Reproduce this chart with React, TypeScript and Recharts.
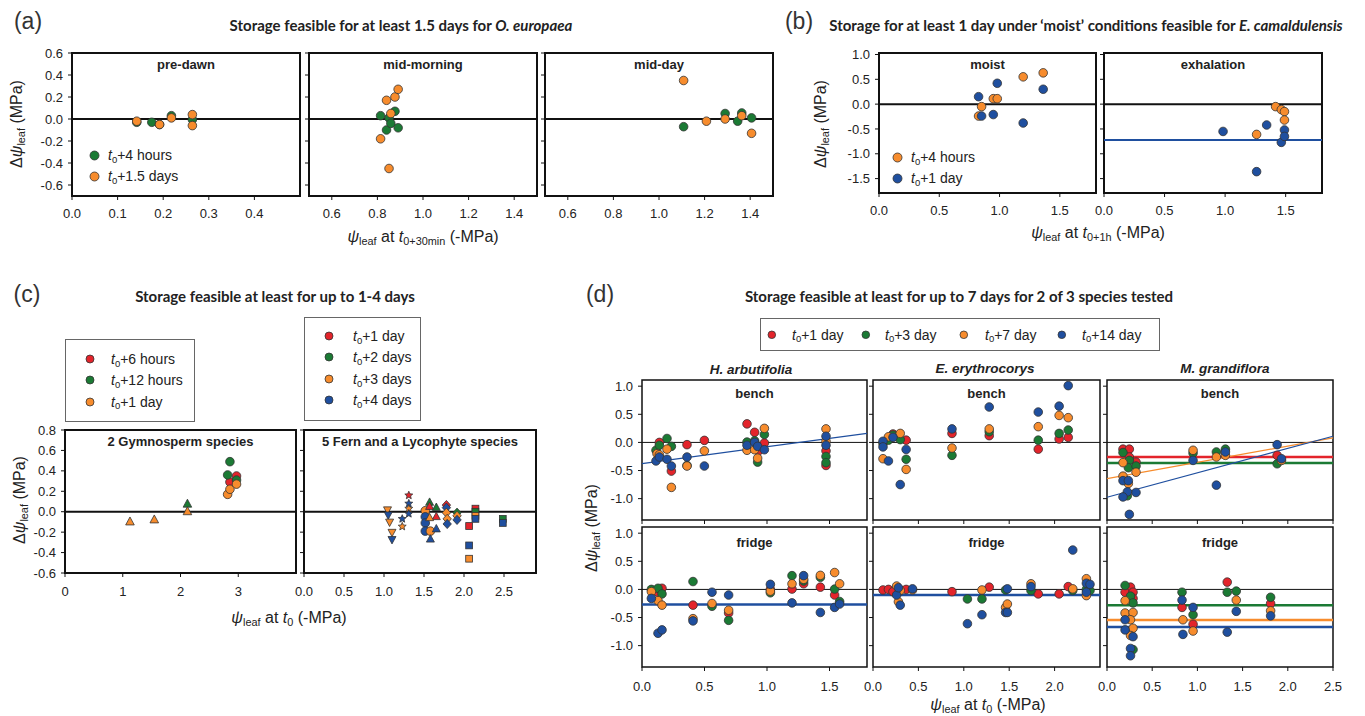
import React from "react";
import {
  ScatterChart,
  Scatter,
  XAxis,
  YAxis,
  ReferenceLine,
  ReferenceArea,
} from "recharts";

const RED = "#e3242b";
const GREEN = "#1b7a34";
const ORANGE = "#f78c2d";
const BLUE = "#1f4f9f";
const STEP_COLORS = [RED, GREEN, ORANGE, BLUE];
const FONT = "'Liberation Sans', Arial, sans-serif";
const TITLE_FONT = "Lato, 'Open Sans', sans-serif";

// (a) O. europaea, x = psi at t0+30min, y = delta psi
const preDawn4h = [[0.142, -0.03], [0.175, -0.03], [0.192, -0.05], [0.218, 0.03], [0.264, -0.005]];
const preDawn36h = [[0.142, -0.02], [0.192, -0.05], [0.218, 0.01], [0.264, 0.04], [0.264, -0.06]];
const midMorning4h = [[0.814, 0.03], [0.851, 0.01], [0.877, 0.07], [0.84, -0.1], [0.859, -0.04], [0.891, -0.08]];
const midMorning36h = [[0.814, -0.18], [0.84, 0.17], [0.859, 0.05], [0.877, 0.2], [0.891, 0.27], [0.851, -0.45]];
const midDay4h = [[1.108, -0.07], [1.29, 0.05], [1.345, -0.02], [1.363, 0.055], [1.406, 0.01]];
const midDay36h = [[1.108, 0.35], [1.208, -0.02], [1.29, 0], [1.363, 0.03], [1.406, -0.13]];

// (b) E. camaldulensis
const moist4h = [[0.826, -0.24], [0.851, -0.05], [0.948, 0.11], [0.981, 0.11], [1.196, 0.55], [1.362, 0.63]];
const moist1d = [[0.826, 0.15], [0.851, -0.24], [0.948, -0.21], [0.981, 0.42], [1.196, -0.38], [1.362, 0.3]];
const exhal4h = [[1.26, -0.61], [1.417, -0.05], [1.464, -0.11], [1.49, -0.15], [1.49, -0.32]];
const exhal1d = [[0.983, -0.55], [1.26, -1.36], [1.343, -0.42], [1.464, -0.77], [1.49, -0.52], [1.49, -0.65]];
const exhalLine = -0.72;

// (c) x, y, time step (0: first, 1: second, 2: third, 3: fourth)
const gymnoTriangles = [[1.125, -0.1, 2], [1.546, -0.08, 2], [2.12, 0.074, 1], [2.12, 0.0, 2]];
const gymnoCircles = [
  [2.856, 0.29, 0], [2.97, 0.35, 0], [2.816, 0.36, 1], [2.856, 0.49, 1], [2.97, 0.31, 1],
  [2.816, 0.17, 2], [2.856, 0.22, 2], [2.97, 0.27, 2],
];
const fernTriDown = [[1.044, 0.02, 2], [1.053, -0.03, 3], [1.07, -0.1, 2], [1.1, -0.2, 2], [1.1, -0.27, 3]];
const fernStar = [[1.31, 0.16, 0], [1.31, 0.08, 3], [1.31, 0.03, 2], [1.31, -0.02, 3], [1.228, -0.07, 3], [1.228, -0.145, 2]];
const fernCircle = [[1.516, 0.01, 2], [1.516, -0.05, 3], [1.516, -0.11, 3], [1.516, -0.19, 3], [1.58, -0.19, 2]];
const fernTriUp = [[1.57, 0.09, 1], [1.57, 0.05, 0], [1.654, 0.04, 1], [1.654, -0.05, 0], [1.57, -0.06, 2], [1.654, -0.17, 3], [1.58, -0.27, 3]];
const fernDiamond = [[1.78, 0.065, 0], [1.78, 0.04, 3], [1.78, -0.01, 2], [1.79, -0.07, 2], [1.79, -0.12, 3], [1.913, -0.01, 1], [1.913, -0.04, 2], [1.913, -0.08, 3]];
const fernSquare = [[2.143, 0.03, 0], [2.143, 0, 1], [2.143, -0.04, 2], [2.143, -0.07, 3], [2.064, -0.14, 0], [2.064, -0.33, 3], [2.064, -0.46, 2], [2.485, -0.07, 1], [2.485, -0.11, 3]];

// (d) H. arbutifolia
const harbBench1d = [[0.139, 0], [0.235, -0.51], [0.36, -0.04], [0.499, 0.036], [0.84, 0.33], [0.901, 0.18], [0.933, -0.15], [0.979, -0.01], [1.472, -0.15], [1.472, -0.41]];
const harbBench3d = [[0.112, -0.14], [0.139, -0.05], [0.2, 0.07], [0.235, -0.07], [0.36, -0.41], [0.84, 0.006], [0.901, 0.03], [0.925, -0.35], [0.979, 0.14], [1.472, -0.25], [1.472, -0.36]];
const harbBench7d = [[0.12, -0.2], [0.139, -0.22], [0.2, -0.12], [0.235, -0.8], [0.36, -0.42], [0.499, -0.15], [0.84, -0.14], [0.901, -0.13], [0.925, -0.28], [0.979, 0.25], [1.472, 0.24], [1.472, 0.02]];
const harbBench14d = [[0.112, -0.33], [0.139, -0.26], [0.2, -0.3], [0.235, -0.42], [0.36, -0.26], [0.499, -0.42], [0.84, -0.05], [0.901, 0], [0.925, -0.07], [0.979, -0.13], [1.472, 0.11], [1.472, -0.05]];
const harbBenchFit = [[0, -0.376], [1.8, 0.16]];
const harbFridge1d = [[0.128, -0.05], [0.16, 0.02], [0.408, -0.28], [0.693, -0.42], [1.027, 0], [1.2, 0.006], [1.293, 0.1], [1.427, 0.04], [1.541, -0.1]];
const harbFridge3d = [[0.075, 0], [0.128, 0.02], [0.16, -0.08], [0.408, 0.14], [0.56, -0.3], [0.693, -0.55], [1.027, -0.06], [1.2, 0.245], [1.293, 0.15], [1.427, 0.215], [1.541, 0.006], [1.581, -0.215]];
const harbFridge7d = [[0.075, -0.04], [0.128, -0.2], [0.16, -0.28], [0.408, -0.52], [0.56, -0.25], [0.693, -0.37], [1.027, -0.03], [1.2, 0.1], [1.293, 0.18], [1.427, 0.25], [1.541, 0.3], [1.581, 0.1]];
const harbFridge14d = [[0.075, -0.16], [0.128, -0.78], [0.16, -0.72], [0.408, -0.56], [0.56, -0.05], [0.693, -0.1], [1.027, 0.09], [1.2, -0.24], [1.293, 0.245], [1.427, -0.41], [1.541, -0.32], [1.581, -0.26]];
const harbFridgeMean14d = -0.27;

// (d) E. erythrocorys
const eryBench1d = [[0.22, 0.15], [0.365, 0.04], [0.87, 0.16], [1.28, 0.12], [1.82, -0.12], [2.05, 0.06], [2.15, 0.09]];
const eryBench3d = [[0.11, -0.02], [0.17, 0.04], [0.22, 0.13], [0.3, 0.05], [0.365, -0.3], [0.87, -0.23], [1.28, 0.19], [1.82, 0.04], [2.05, 0.16], [2.15, 0.22]];
const eryBench7d = [[0.11, -0.29], [0.17, 0.1], [0.3, 0.16], [0.365, -0.48], [0.87, -0.1], [1.28, 0.24], [1.82, 0.28], [2.05, 0.48], [2.15, 0.44]];
const eryBench14d = [[0.11, 0.02], [0.11, -0.08], [0.17, -0.33], [0.22, 0.09], [0.3, -0.75], [0.365, -0.125], [0.87, 0.24], [1.28, 0.63], [1.82, 0.54], [2.05, 0.645], [2.15, 1.01]];
const eryFridge1d = [[0.11, -0.01], [0.17, 0], [0.22, -0.04], [0.365, 0], [0.87, -0.04], [1.28, 0.04], [1.82, -0.08], [2.05, -0.08], [2.15, 0.05]];
const eryFridge3d = [[1.04, -0.17], [1.2, -0.17], [1.46, -0.01], [1.74, -0.02], [2.2, -0.02], [2.35, 0], [2.39, -0.02]];
const eryFridge7d = [[0.26, 0.06], [0.28, -0.22], [0.3, -0.02], [0.435, -0.01], [1.2, -0.01], [1.46, -0.32], [1.48, -0.26], [1.74, 0.1], [2.2, 0.01], [2.35, 0.19], [2.35, -0.11]];
const eryFridge14d = [[0.26, -0.1], [0.28, 0.03], [0.3, -0.28], [0.435, 0.01], [1.04, -0.61], [1.2, -0.45], [1.46, -0.41], [1.48, 0.01], [1.48, -0.41], [1.74, 0.05], [2.2, 0.7], [2.35, 0.11], [2.35, -0.05], [2.39, 0.09]];
const eryFridgeMean14d = -0.1;

// (d) M. grandiflora
const magBench1d = [[0.177, -0.12], [0.247, -0.12], [0.247, -0.26], [0.321, -0.35], [1.882, -0.23]];
const magBench3d = [[0.177, -0.18], [0.247, -0.32], [0.236, -0.45], [0.321, -0.42], [0.225, -0.95], [0.952, -0.19], [1.21, -0.17], [1.31, -0.12], [1.882, -0.38]];
const magBench7d = [[0.177, -0.36], [0.321, -0.53], [0.177, -0.6], [0.236, -0.73], [0.952, -0.14], [1.21, -0.26], [1.31, -0.23], [1.93, -0.32]];
const magBench14d = [[0.177, -0.68], [0.236, -0.68], [0.321, -0.89], [0.225, -0.88], [0.177, -0.97], [0.247, -1.28], [0.952, -0.32], [1.21, -0.76], [1.31, -0.17], [1.882, -0.04], [1.93, -0.29]];
const magBenchMean1d = -0.26;
const magBenchMean3d = -0.365;
const magBenchFit7d = [[0, -0.645], [2.5, 0.08]];
const magBenchFit14d = [[0, -0.975], [2.5, 0.11]];
const magFridge1d = [[0.26, 0.04], [0.2, -0.05], [0.288, -0.05], [0.288, -0.16], [0.83, -0.32], [0.952, -0.62], [1.33, 0.13], [1.81, -0.25]];
const magFridge3d = [[0.2, 0.07], [0.26, -0.12], [0.288, -0.24], [0.288, -1.07], [0.83, -0.05], [0.952, -0.45], [1.33, -0.05], [1.43, -0.03], [1.81, -0.14]];
const magFridge7d = [[0.2, -0.2], [0.2, -0.42], [0.288, -0.41], [0.26, -0.54], [0.288, -0.69], [0.26, -0.82], [0.84, -0.54], [0.952, -0.74], [1.43, -0.19], [1.81, -0.38]];
const magFridge14d = [[0.2, -0.54], [0.2, -0.72], [0.288, -0.84], [0.26, -1.05], [0.26, -1.18], [0.83, -0.19], [0.84, -0.8], [0.952, -0.32], [1.33, -0.76], [1.43, -0.39], [1.81, -0.47]];
const magFridgeMean3d = -0.28;
const magFridgeMean7d = -0.545;
const magFridgeMean14d = -0.67;

const aYTicks = [-0.6, -0.4, -0.2, 0, 0.2, 0.4, 0.6];
const bYTicks = [-1.5, -1, -0.5, 0, 0.5, 1];
const cYTicks = [-0.6, -0.4, -0.2, 0, 0.2, 0.4, 0.6, 0.8];
const dYTicks = [-1, -0.5, 0, 0.5, 1];

type Pt = { x: number; y: number; s: number };
const toPts = (rows: number[][]): Pt[] => rows.map(([x, y, s]) => ({ x, y, s: s ?? 0 }));

function starPath(cx: number, cy: number, r: number) {
  let d = "";
  for (let i = 0; i < 10; i++) {
    const rr = i % 2 === 0 ? r : r * 0.45;
    const a = -Math.PI / 2 + (i * Math.PI) / 5;
    d += `${i === 0 ? "M" : "L"}${cx + rr * Math.cos(a)},${cy + rr * Math.sin(a)}`;
  }
  return d + "Z";
}

function marker(kind: string, color: string | undefined, r: number) {
  return (p: any) => {
    const { cx, cy, payload } = p;
    if (cx == null || cy == null) return <g />;
    const fill = color ?? STEP_COLORS[payload?.s ?? 0];
    const st = { fill, stroke: "#333", strokeWidth: 0.8 };
    switch (kind) {
      case "triUp":
        return <path d={`M${cx},${cy - r * 1.15}L${cx + r},${cy + r * 0.7}L${cx - r},${cy + r * 0.7}Z`} {...st} />;
      case "triDown":
        return <path d={`M${cx},${cy + r * 1.15}L${cx + r},${cy - r * 0.7}L${cx - r},${cy - r * 0.7}Z`} {...st} />;
      case "square":
        return <rect x={cx - r * 0.85} y={cy - r * 0.85} width={r * 1.7} height={r * 1.7} {...st} />;
      case "diamond":
        return <path d={`M${cx},${cy - r * 1.1}L${cx + r},${cy}L${cx},${cy + r * 1.1}L${cx - r},${cy}Z`} {...st} />;
      case "star":
        return <path d={starPath(cx, cy, r * 1.1)} {...st} />;
      default:
        return <circle cx={cx} cy={cy} r={r} {...st} />;
    }
  };
}

type SeriesDef = { rows: number[][]; color?: string; kind?: string; r?: number };
type PanelProps = {
  left: number;
  top: number;
  w: number;
  h: number;
  xDomain: [number, number];
  yDomain: [number, number];
  xTicks: number[];
  yTicks: number[];
  yLabels?: boolean;
  xLabels?: boolean;
  xDigits?: number;
  series: SeriesDef[];
  hLines?: { y: number; color: string; width: number }[];
  segs?: { pts: number[][]; color: string }[];
  frame?: number;
  zero?: number;
  xGap?: number;
  label?: string;
  labelTop?: number;
};

const YW = 50;
const PADT = 10;
const PADR = 14;
const XH = 34;

function Panel(props: PanelProps) {
  const {
    left, top, w, h, xDomain, yDomain, xTicks, yTicks, yLabels, xLabels = true, xDigits = 1,
    series, hLines = [], segs = [], frame = 2, zero = 2, xGap = 9, label, labelTop = 4,
  } = props;
  const tickStyle = { fill: "#222", fontSize: 13, fontFamily: FONT };
  return (
    <div style={{ position: "absolute", left: left - YW, top: top - PADT }}>
      <ScatterChart
        width={YW + w + PADR}
        height={PADT + h + XH}
        margin={{ top: PADT, right: PADR, bottom: 0, left: 0 }}
      >
        <XAxis
          type="number"
          dataKey="x"
          domain={xDomain}
          ticks={xTicks}
          interval={0}
          allowDataOverflow
          height={XH}
          tickSize={4}
          tickMargin={xGap}
          axisLine={false}
          tickLine={{ stroke: "#111" }}
          tick={tickStyle}
          tickFormatter={(v: number) => (xLabels ? v.toFixed(xDigits) : "")}
        />
        <YAxis
          type="number"
          dataKey="y"
          domain={yDomain}
          ticks={yTicks}
          interval={0}
          allowDataOverflow
          width={YW}
          tickSize={4}
          tickMargin={5}
          axisLine={false}
          tickLine={{ stroke: "#111" }}
          tick={tickStyle}
          tickFormatter={(v: number) => (yLabels ? v.toFixed(1) : "")}
        />
        <ReferenceArea
          x1={xDomain[0]}
          x2={xDomain[1]}
          y1={yDomain[0]}
          y2={yDomain[1]}
          fill="none"
          fillOpacity={0}
          stroke="#111"
          strokeWidth={frame}
          ifOverflow="visible"
        />
        <ReferenceLine y={0} stroke="#111" strokeWidth={zero} />
        {hLines.map((l, i) => (
          <ReferenceLine key={`h${i}`} y={l.y} stroke={l.color} strokeWidth={l.width} />
        ))}
        {segs.map((s, i) => (
          <ReferenceLine
            key={`s${i}`}
            segment={s.pts.map(([x, y]) => ({ x, y }))}
            stroke={s.color}
            strokeWidth={1.2}
          />
        ))}
        {series.map((s, i) => (
          <Scatter
            key={i}
            data={toPts(s.rows)}
            isAnimationActive={false}
            shape={marker(s.kind ?? "circle", s.color, s.r ?? 4.3)}
          />
        ))}
      </ScatterChart>
      {label && (
        <div
          style={{
            position: "absolute",
            left: YW,
            width: w,
            top: PADT + labelTop,
            textAlign: "center",
            font: `bold 13px ${FONT}`,
            color: "#222",
            lineHeight: "15px",
          }}
        >
          {label}
        </div>
      )}
    </div>
  );
}

const sub: React.CSSProperties = { fontSize: "0.68em", position: "relative", top: "0.3em" };
const T0 = ({ s = "0" }: { s?: string }) => (
  <>
    <i>t</i>
    <span style={sub}>{s}</span>
  </>
);
const Psi = () => (
  <>
    <i>ψ</i>
    <span style={sub}>leaf</span>
  </>
);

function Txt(props: {
  x: number;
  y: number;
  children: React.ReactNode;
  style?: React.CSSProperties;
  rotate?: boolean;
  anchor?: "middle" | "start";
}) {
  const { x, y, children, style, rotate, anchor = "middle" } = props;
  const tf = rotate
    ? "translate(-50%,-50%) rotate(-90deg)"
    : anchor === "middle"
    ? "translate(-50%,-50%)"
    : "translate(0,-50%)";
  return (
    <div
      style={{
        position: "absolute",
        left: x,
        top: y,
        transform: tf,
        whiteSpace: "nowrap",
        fontFamily: FONT,
        color: "#222",
        ...style,
      }}
    >
      {children}
    </div>
  );
}

function LegendItem(props: { x: number; y: number; tx: number; color: string; r: number; children: React.ReactNode }) {
  const { x, y, tx, color, r, children } = props;
  return (
    <>
      <svg
        width={r * 2 + 2}
        height={r * 2 + 2}
        style={{ position: "absolute", left: x - r - 1, top: y - r - 1 }}
      >
        <circle cx={r + 1} cy={r + 1} r={r} fill={color} stroke="#333" strokeWidth={0.8} />
      </svg>
      <Txt x={tx} y={y} anchor="start" style={{ fontSize: 14 }}>
        {children}
      </Txt>
    </>
  );
}

const Box = (p: { l: number; t: number; r: number; b: number }) => (
  <div
    style={{
      position: "absolute",
      left: p.l,
      top: p.t,
      width: p.r - p.l,
      height: p.b - p.t,
      border: "1px solid #666",
      boxSizing: "border-box",
    }}
  />
);

const titleStyle: React.CSSProperties = { fontFamily: TITLE_FONT, fontWeight: 700, fontSize: 15, color: "#222" };
const letterStyle: React.CSSProperties = { fontSize: 23, color: "#333" };
const axisStyle: React.CSSProperties = { fontSize: 16, color: "#222" };
const speciesStyle: React.CSSProperties = { fontSize: 13.5, fontWeight: 700, fontStyle: "italic" };

export default function App() {
  const aX: [number, number] = [0.5, 1.5];
  const aTicks2 = [0.6, 0.8, 1.0, 1.2, 1.4];
  const dY: [number, number] = [-1.38, 1.11];
  return (
    <div style={{ position: "relative", width: 1365, height: 716, background: "#fff", overflow: "hidden" }}>
      <style>{"body{margin:0}"}</style>

      {/* (a) */}
      <Txt x={28} y={21} style={letterStyle}>(a)</Txt>
      <Txt x={401} y={25} style={titleStyle}>
        Storage feasible for at least 1.5 days for <i>O. europaea</i>
      </Txt>
      <Panel
        left={72} top={53} w={228} h={143}
        xDomain={[0, 0.5]} yDomain={[-0.7, 0.6]}
        xTicks={[0, 0.1, 0.2, 0.3, 0.4]} yTicks={aYTicks} yLabels
        label="pre-dawn"
        series={[{ rows: preDawn4h, color: GREEN }, { rows: preDawn36h, color: ORANGE }]}
      />
      <Panel
        left={309} top={53} w={228} h={143}
        xDomain={aX} yDomain={[-0.7, 0.6]}
        xTicks={aTicks2} yTicks={aYTicks}
        label="mid-morning"
        series={[{ rows: midMorning4h, color: GREEN }, { rows: midMorning36h, color: ORANGE }]}
      />
      <Panel
        left={545} top={53} w={228} h={143}
        xDomain={aX} yDomain={[-0.7, 0.6]}
        xTicks={aTicks2} yTicks={aYTicks}
        label="mid-day"
        series={[{ rows: midDay4h, color: GREEN }, { rows: midDay36h, color: ORANGE }]}
      />
      <LegendItem x={94} y={155} tx={108} color={GREEN} r={4.5}>
        <T0 />+4 hours
      </LegendItem>
      <LegendItem x={94} y={176} tx={108} color={ORANGE} r={4.5}>
        <T0 />+1.5 days
      </LegendItem>
      <Txt x={17} y={124} rotate style={axisStyle}>
        Δ<Psi /> (MPa)
      </Txt>
      <Txt x={423} y={237} style={axisStyle}>
        <Psi /> at <T0 s="0+30min" /> (-MPa)
      </Txt>

      {/* (b) */}
      <Txt x={799} y={21} style={letterStyle}>(b)</Txt>
      <Txt x={1086} y={25} style={titleStyle}>
        Storage for at least 1 day under ‘moist’ conditions feasible for <i>E. camaldulensis</i>
      </Txt>
      <Panel
        left={879} top={53} w={217} h={140}
        xDomain={[0, 1.8]} yDomain={[-1.79, 1.03]}
        xTicks={[0, 0.5, 1, 1.5]} yTicks={bYTicks} yLabels
        label="moist"
        series={[{ rows: moist4h, color: ORANGE }, { rows: moist1d, color: BLUE }]}
      />
      <Panel
        left={1104} top={53} w={218} h={140}
        xDomain={[0, 1.8]} yDomain={[-1.79, 1.03]}
        xTicks={[0, 0.5, 1, 1.5]} yTicks={bYTicks}
        label="exhalation"
        hLines={[{ y: exhalLine, color: BLUE, width: 2 }]}
        series={[{ rows: exhal4h, color: ORANGE }, { rows: exhal1d, color: BLUE }]}
      />
      <LegendItem x={897} y={157} tx={911} color={ORANGE} r={4.5}>
        <T0 />+4 hours
      </LegendItem>
      <LegendItem x={897} y={178} tx={911} color={BLUE} r={4.5}>
        <T0 />+1 day
      </LegendItem>
      <Txt x={821} y={124} rotate style={axisStyle}>
        Δ<Psi /> (MPa)
      </Txt>
      <Txt x={1098} y={233} style={axisStyle}>
        <Psi /> at <T0 s="0+1h" /> (-MPa)
      </Txt>

      {/* (c) */}
      <Txt x={27} y={294} style={letterStyle}>(c)</Txt>
      <Txt x={275} y={296} style={titleStyle}>
        Storage feasible at least for up to 1-4 days
      </Txt>
      <Box l={65} t={339} r={195} b={422} />
      <LegendItem x={90} y={359} tx={111} color={RED} r={4}>
        <T0 />+6 hours
      </LegendItem>
      <LegendItem x={90} y={380} tx={111} color={GREEN} r={4}>
        <T0 />+12 hours
      </LegendItem>
      <LegendItem x={90} y={401.5} tx={111} color={ORANGE} r={4}>
        <T0 />+1 day
      </LegendItem>
      <Box l={304} t={317} r={421} b={421} />
      <LegendItem x={329} y={336} tx={353} color={RED} r={4}>
        <T0 />+1 day
      </LegendItem>
      <LegendItem x={329} y={357} tx={353} color={GREEN} r={4}>
        <T0 />+2 days
      </LegendItem>
      <LegendItem x={329} y={379} tx={353} color={ORANGE} r={4}>
        <T0 />+3 days
      </LegendItem>
      <LegendItem x={329} y={400} tx={353} color={BLUE} r={4}>
        <T0 />+4 days
      </LegendItem>
      <Panel
        left={65} top={430} w={231} h={143}
        xDomain={[0, 4]} yDomain={[-0.6, 0.8]}
        xTicks={[0, 1, 2, 3]} xDigits={0} yTicks={cYTicks} yLabels xGap={10}
        label="2 Gymnosperm species"
        series={[
          { rows: gymnoTriangles, kind: "triUp" },
          { rows: gymnoCircles },
        ]}
      />
      <Panel
        left={304} top={430} w={232} h={143}
        xDomain={[0, 2.9]} yDomain={[-0.6, 0.8]}
        xTicks={[0, 0.5, 1, 1.5, 2, 2.5]} yTicks={cYTicks} xGap={10}
        label="5 Fern and a Lycophyte species"
        series={[
          { rows: fernTriDown, kind: "triDown", r: 4 },
          { rows: fernStar, kind: "star", r: 3.8 },
          { rows: fernCircle, r: 4.3 },
          { rows: fernTriUp, kind: "triUp", r: 4 },
          { rows: fernDiamond, kind: "diamond", r: 4.2 },
          { rows: fernSquare, kind: "square", r: 4 },
        ]}
      />
      <Txt x={20} y={500} rotate style={axisStyle}>
        Δ<Psi /> (MPa)
      </Txt>
      <Txt x={289} y={618} style={axisStyle}>
        <Psi /> at <T0 /> (-MPa)
      </Txt>

      {/* (d) */}
      <Txt x={600} y={294} style={letterStyle}>(d)</Txt>
      <Txt x={959} y={296} style={titleStyle}>
        Storage feasible at least for up to 7 days for 2 of 3 species tested
      </Txt>
      <Box l={760} t={318} r={1160} b={351} />
      <LegendItem x={772} y={334.5} tx={792} color={RED} r={3.8}>
        <T0 />+1 day
      </LegendItem>
      <LegendItem x={866} y={334.5} tx={885} color={GREEN} r={3.8}>
        <T0 />+3 day
      </LegendItem>
      <LegendItem x={964} y={334.5} tx={985} color={ORANGE} r={3.8}>
        <T0 />+7 day
      </LegendItem>
      <LegendItem x={1062} y={334.5} tx={1082} color={BLUE} r={3.8}>
        <T0 />+14 day
      </LegendItem>
      <Txt x={751} y={369} style={speciesStyle}>H. arbutifolia</Txt>
      <Txt x={985} y={368} style={speciesStyle}>E. erythrocorys</Txt>
      <Txt x={1225} y={368} style={speciesStyle}>M. grandiflora</Txt>

      <Panel
        left={642} top={380} w={225} h={140}
        xDomain={[0, 1.8]} yDomain={dY}
        xTicks={[0, 0.5, 1, 1.5]} yTicks={dYTicks} yLabels xLabels={false}
        frame={1.5} zero={1} label="bench" labelTop={6}
        segs={[{ pts: harbBenchFit, color: BLUE }]}
        series={[
          { rows: harbBench1d, color: RED },
          { rows: harbBench3d, color: GREEN },
          { rows: harbBench7d, color: ORANGE },
          { rows: harbBench14d, color: BLUE },
        ]}
      />
      <Panel
        left={642} top={527} w={225} h={140}
        xDomain={[0, 1.8]} yDomain={dY}
        xTicks={[0, 0.5, 1, 1.5]} yTicks={dYTicks} yLabels xGap={11}
        frame={1.5} zero={1} label="fridge" labelTop={8}
        hLines={[{ y: harbFridgeMean14d, color: BLUE, width: 2.5 }]}
        series={[
          { rows: harbFridge1d, color: RED },
          { rows: harbFridge3d, color: GREEN },
          { rows: harbFridge7d, color: ORANGE },
          { rows: harbFridge14d, color: BLUE },
        ]}
      />
      <Panel
        left={873} top={380} w={227} h={140}
        xDomain={[0, 2.5]} yDomain={dY}
        xTicks={[0, 0.5, 1, 1.5, 2]} yTicks={dYTicks} xLabels={false}
        frame={1.5} zero={1} label="bench" labelTop={6}
        series={[
          { rows: eryBench1d, color: RED },
          { rows: eryBench3d, color: GREEN },
          { rows: eryBench7d, color: ORANGE },
          { rows: eryBench14d, color: BLUE },
        ]}
      />
      <Panel
        left={873} top={527} w={227} h={140}
        xDomain={[0, 2.5]} yDomain={dY}
        xTicks={[0, 0.5, 1, 1.5, 2]} yTicks={dYTicks} xGap={11}
        frame={1.5} zero={1} label="fridge" labelTop={8}
        hLines={[{ y: eryFridgeMean14d, color: BLUE, width: 2.5 }]}
        series={[
          { rows: eryFridge1d, color: RED },
          { rows: eryFridge3d, color: GREEN },
          { rows: eryFridge7d, color: ORANGE },
          { rows: eryFridge14d, color: BLUE },
        ]}
      />
      <Panel
        left={1107} top={380} w={226} h={140}
        xDomain={[0, 2.5]} yDomain={dY}
        xTicks={[0, 0.5, 1, 1.5, 2, 2.5]} yTicks={dYTicks} xLabels={false}
        frame={1.5} zero={1} label="bench" labelTop={6}
        hLines={[
          { y: magBenchMean1d, color: RED, width: 2.5 },
          { y: magBenchMean3d, color: GREEN, width: 2.5 },
        ]}
        segs={[
          { pts: magBenchFit7d, color: ORANGE },
          { pts: magBenchFit14d, color: BLUE },
        ]}
        series={[
          { rows: magBench1d, color: RED },
          { rows: magBench3d, color: GREEN },
          { rows: magBench7d, color: ORANGE },
          { rows: magBench14d, color: BLUE },
        ]}
      />
      <Panel
        left={1107} top={527} w={226} h={140}
        xDomain={[0, 2.5]} yDomain={dY}
        xTicks={[0, 0.5, 1, 1.5, 2, 2.5]} yTicks={dYTicks} xGap={11}
        frame={1.5} zero={1} label="fridge" labelTop={8}
        hLines={[
          { y: magFridgeMean3d, color: GREEN, width: 2.5 },
          { y: magFridgeMean7d, color: ORANGE, width: 2.5 },
          { y: magFridgeMean14d, color: BLUE, width: 2.5 },
        ]}
        series={[
          { rows: magFridge1d, color: RED },
          { rows: magFridge3d, color: GREEN },
          { rows: magFridge7d, color: ORANGE },
          { rows: magFridge14d, color: BLUE },
        ]}
      />
      <Txt x={592} y={528} rotate style={axisStyle}>
        Δ<Psi /> (MPa)
      </Txt>
      <Txt x={988} y={705} style={axisStyle}>
        <Psi /> at <T0 /> (-MPa)
      </Txt>
    </div>
  );
}
